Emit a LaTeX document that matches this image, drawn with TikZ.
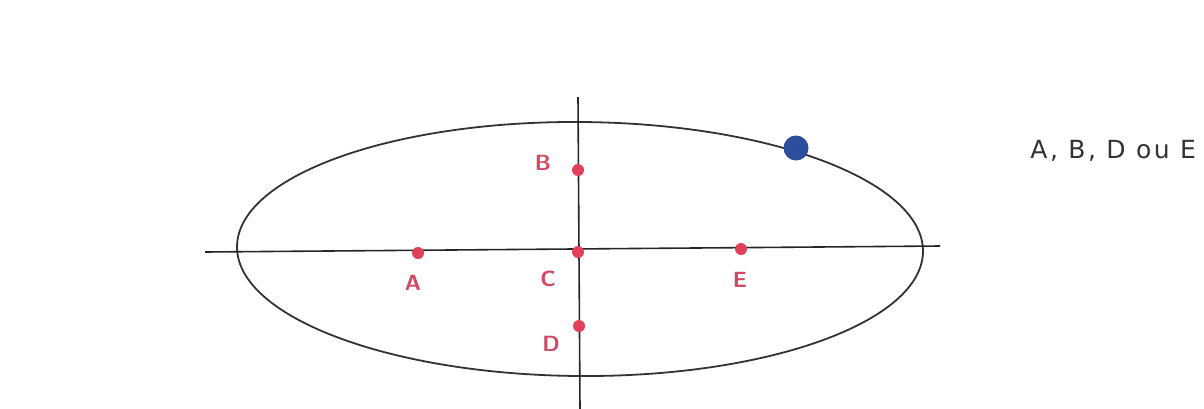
\documentclass[tikz,border=0pt]{standalone}
\usepackage{fontspec}
\setmainfont{Liberation Sans}
\newfontfamily\handfont[LetterSpace=10]{DejaVu Sans}
\definecolor{ptred}{HTML}{E0405A}
\definecolor{ptblue}{HTML}{2D4E9C}
\definecolor{lbl}{HTML}{D24A62}
\begin{document}
\begin{tikzpicture}[x=0.5pt,y=-0.5pt,
  dot/.style={circle,fill=ptred,inner sep=0pt,minimum size=6pt},
  bigdot/.style={circle,fill=ptblue,inner sep=0pt,minimum size=12.5pt},
  lab/.style={text=lbl,font=\sffamily\bfseries\fontsize{11}{13}\selectfont,inner sep=0pt},
  axis/.style={draw=black!85,line width=0.8pt},
  curve/.style={draw=black!80,line width=0.9pt}]
\useasboundingbox[fill=white] (0,0) rectangle (1204,408);
% ellipse
\draw[curve,rotate around={-0.4:(580,249)}] (580,249) ellipse [x radius=343, y radius=127];
% axes
\coordinate (hl) at (205,252);
\coordinate (hr) at (940,246);
\coordinate (vt) at (578,97);
\coordinate (vb) at (580,410);
\draw[axis] (hl) -- (hr);
\draw[axis] (vt) -- (vb);
% points
\node[dot] (A) at (418,253) {};
\node[dot] (B) at (578,170) {};
\node[dot] (C) at (578,252) {};
\node[dot] (D) at (579,326) {};
\node[dot] (E) at (741,249) {};
\node[bigdot] (P) at (796,148) {};
% labels
\node[lab] (lA) at (413,283) {A};
\node[lab] (lB) at (543,163) {B};
\node[lab] (lC) at (548,279) {C};
\node[lab] (lD) at (551,344) {D};
\node[lab] (lE) at (740,280) {E};
% handwritten answer
\node[anchor=base west,inner sep=0pt,text=black!80,font=\handfont\fontsize{12.5}{14}\selectfont] (ans) at (1030,158) {A, B, D ou E};
\end{tikzpicture}
\end{document}
